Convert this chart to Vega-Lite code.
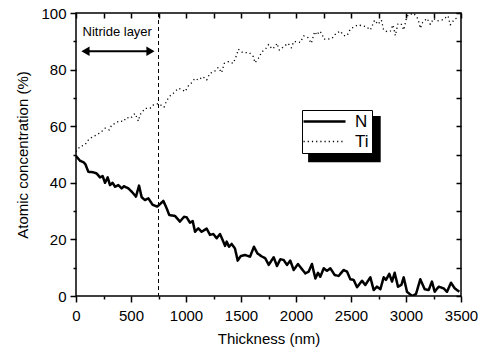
{
  "$schema": "https://vega.github.io/schema/vega-lite/v6.json",
  "width": 385,
  "height": 283,
  "autosize": {"type": "none"},
  "padding": {"left": 76, "top": 13, "right": 23, "bottom": 55},
  "background": "white",
  "config": {
    "view": {"stroke": "black", "strokeWidth": 1.5},
    "font": "Liberation Sans",
    "axis": {"grid": false, "domain": false, "ticks": true, "tickColor": "black", "tickOpacity": 1, "labelColor": "black", "titleColor": "black", "labelFont": "Liberation Sans", "titleFont": "Liberation Sans", "labelFontSize": 15, "titleFontSize": 15, "titleFontWeight": "normal", "tickWidth": 1.5}
  },
  "datasets": {
    "conc": [
      {"t":0,"v":49.5,"el":"N"},{"t":36,"v":47.8,"el":"N"},{"t":67,"v":47.3,"el":"N"},{"t":85,"v":46.6,"el":"N"},{"t":112,"v":43.9,"el":"N"},{"t":158,"v":43.7,"el":"N"},{"t":188,"v":43.3,"el":"N"},{"t":218,"v":41.9,"el":"N"},{"t":242,"v":42.4,"el":"N"},{"t":264,"v":40.0,"el":"N"},{"t":288,"v":41.9,"el":"N"},{"t":309,"v":39.2,"el":"N"},{"t":333,"v":40.0,"el":"N"},{"t":355,"v":38.6,"el":"N"},{"t":385,"v":39.2,"el":"N"},{"t":415,"v":38.0,"el":"N"},{"t":436,"v":38.8,"el":"N"},{"t":476,"v":38.0,"el":"N"},{"t":506,"v":36.9,"el":"N"},{"t":545,"v":35.1,"el":"N"},{"t":573,"v":39.0,"el":"N"},{"t":597,"v":34.9,"el":"N"},{"t":627,"v":33.9,"el":"N"},{"t":658,"v":34.5,"el":"N"},{"t":697,"v":32.2,"el":"N"},{"t":739,"v":31.6,"el":"N"},{"t":770,"v":32.7,"el":"N"},{"t":794,"v":33.6,"el":"N"},{"t":824,"v":31.0,"el":"N"},{"t":848,"v":28.6,"el":"N"},{"t":900,"v":28.3,"el":"N"},{"t":945,"v":26.3,"el":"N"},{"t":982,"v":28.0,"el":"N"},{"t":1006,"v":27.8,"el":"N"},{"t":1036,"v":25.9,"el":"N"},{"t":1061,"v":26.5,"el":"N"},{"t":1082,"v":22.7,"el":"N"},{"t":1112,"v":23.9,"el":"N"},{"t":1142,"v":22.7,"el":"N"},{"t":1188,"v":23.8,"el":"N"},{"t":1218,"v":21.6,"el":"N"},{"t":1248,"v":21.9,"el":"N"},{"t":1279,"v":20.4,"el":"N"},{"t":1309,"v":21.9,"el":"N"},{"t":1333,"v":19.8,"el":"N"},{"t":1355,"v":17.7,"el":"N"},{"t":1370,"v":19.2,"el":"N"},{"t":1391,"v":17.4,"el":"N"},{"t":1415,"v":18.4,"el":"N"},{"t":1445,"v":16.8,"el":"N"},{"t":1470,"v":12.5,"el":"N"},{"t":1497,"v":14.1,"el":"N"},{"t":1536,"v":14.5,"el":"N"},{"t":1582,"v":13.9,"el":"N"},{"t":1618,"v":17.4,"el":"N"},{"t":1648,"v":15.1,"el":"N"},{"t":1688,"v":14.0,"el":"N"},{"t":1721,"v":13.3,"el":"N"},{"t":1752,"v":11.0,"el":"N"},{"t":1797,"v":13.7,"el":"N"},{"t":1827,"v":10.6,"el":"N"},{"t":1858,"v":13.0,"el":"N"},{"t":1888,"v":12.7,"el":"N"},{"t":1918,"v":11.0,"el":"N"},{"t":1948,"v":12.5,"el":"N"},{"t":1979,"v":9.2,"el":"N"},{"t":2018,"v":11.3,"el":"N"},{"t":2048,"v":9.8,"el":"N"},{"t":2085,"v":8.0,"el":"N"},{"t":2115,"v":8.6,"el":"N"},{"t":2145,"v":11.3,"el":"N"},{"t":2176,"v":6.2,"el":"N"},{"t":2200,"v":8.2,"el":"N"},{"t":2221,"v":6.8,"el":"N"},{"t":2252,"v":9.8,"el":"N"},{"t":2282,"v":8.9,"el":"N"},{"t":2312,"v":9.8,"el":"N"},{"t":2352,"v":7.4,"el":"N"},{"t":2388,"v":7.1,"el":"N"},{"t":2433,"v":9.2,"el":"N"},{"t":2464,"v":8.6,"el":"N"},{"t":2494,"v":5.9,"el":"N"},{"t":2524,"v":5.7,"el":"N"},{"t":2555,"v":3.1,"el":"N"},{"t":2600,"v":5.4,"el":"N"},{"t":2630,"v":3.9,"el":"N"},{"t":2676,"v":6.6,"el":"N"},{"t":2706,"v":2.1,"el":"N"},{"t":2736,"v":3.3,"el":"N"},{"t":2767,"v":2.4,"el":"N"},{"t":2797,"v":6.6,"el":"N"},{"t":2818,"v":5.7,"el":"N"},{"t":2848,"v":7.8,"el":"N"},{"t":2873,"v":5.1,"el":"N"},{"t":2897,"v":8.2,"el":"N"},{"t":2927,"v":3.3,"el":"N"},{"t":2958,"v":3.9,"el":"N"},{"t":2979,"v":6.6,"el":"N"},{"t":3009,"v":1.5,"el":"N"},{"t":3055,"v":0.0,"el":"N"},{"t":3091,"v":0.7,"el":"N"},{"t":3130,"v":5.9,"el":"N"},{"t":3170,"v":2.4,"el":"N"},{"t":3206,"v":2.1,"el":"N"},{"t":3236,"v":5.1,"el":"N"},{"t":3261,"v":1.5,"el":"N"},{"t":3297,"v":3.3,"el":"N"},{"t":3342,"v":2.7,"el":"N"},{"t":3373,"v":1.5,"el":"N"},{"t":3409,"v":4.7,"el":"N"},{"t":3443,"v":2.7,"el":"N"},{"t":3485,"v":1.5,"el":"N"},
      {"t":0,"v":51.0,"el":"Ti"},{"t":36,"v":52.8,"el":"Ti"},{"t":82,"v":53.4,"el":"Ti"},{"t":112,"v":55.1,"el":"Ti"},{"t":152,"v":56.3,"el":"Ti"},{"t":188,"v":56.9,"el":"Ti"},{"t":233,"v":58.1,"el":"Ti"},{"t":264,"v":59.3,"el":"Ti"},{"t":303,"v":58.7,"el":"Ti"},{"t":324,"v":60.4,"el":"Ti"},{"t":355,"v":61.0,"el":"Ti"},{"t":394,"v":61.9,"el":"Ti"},{"t":430,"v":61.6,"el":"Ti"},{"t":461,"v":63.1,"el":"Ti"},{"t":497,"v":62.8,"el":"Ti"},{"t":536,"v":64.5,"el":"Ti"},{"t":567,"v":61.8,"el":"Ti"},{"t":582,"v":64.0,"el":"Ti"},{"t":627,"v":66.3,"el":"Ti"},{"t":673,"v":66.3,"el":"Ti"},{"t":703,"v":67.5,"el":"Ti"},{"t":750,"v":68.0,"el":"Ti"},{"t":800,"v":66.7,"el":"Ti"},{"t":824,"v":69.0,"el":"Ti"},{"t":855,"v":70.7,"el":"Ti"},{"t":885,"v":71.6,"el":"Ti"},{"t":930,"v":73.4,"el":"Ti"},{"t":961,"v":73.0,"el":"Ti"},{"t":991,"v":72.2,"el":"Ti"},{"t":1021,"v":74.2,"el":"Ti"},{"t":1052,"v":75.4,"el":"Ti"},{"t":1082,"v":76.9,"el":"Ti"},{"t":1112,"v":76.3,"el":"Ti"},{"t":1152,"v":77.5,"el":"Ti"},{"t":1188,"v":76.3,"el":"Ti"},{"t":1218,"v":78.7,"el":"Ti"},{"t":1258,"v":79.3,"el":"Ti"},{"t":1294,"v":80.8,"el":"Ti"},{"t":1324,"v":78.9,"el":"Ti"},{"t":1348,"v":82.2,"el":"Ti"},{"t":1385,"v":82.8,"el":"Ti"},{"t":1430,"v":82.2,"el":"Ti"},{"t":1461,"v":85.2,"el":"Ti"},{"t":1476,"v":87.2,"el":"Ti"},{"t":1515,"v":86.0,"el":"Ti"},{"t":1576,"v":86.0,"el":"Ti"},{"t":1612,"v":84.6,"el":"Ti"},{"t":1627,"v":82.4,"el":"Ti"},{"t":1658,"v":84.0,"el":"Ti"},{"t":1691,"v":86.3,"el":"Ti"},{"t":1727,"v":87.5,"el":"Ti"},{"t":1752,"v":88.9,"el":"Ti"},{"t":1782,"v":87.3,"el":"Ti"},{"t":1812,"v":88.1,"el":"Ti"},{"t":1827,"v":89.3,"el":"Ti"},{"t":1848,"v":86.9,"el":"Ti"},{"t":1888,"v":88.1,"el":"Ti"},{"t":1927,"v":89.3,"el":"Ti"},{"t":1958,"v":87.7,"el":"Ti"},{"t":1979,"v":89.9,"el":"Ti"},{"t":2009,"v":89.9,"el":"Ti"},{"t":2039,"v":89.6,"el":"Ti"},{"t":2070,"v":91.9,"el":"Ti"},{"t":2109,"v":91.3,"el":"Ti"},{"t":2139,"v":89.3,"el":"Ti"},{"t":2170,"v":93.4,"el":"Ti"},{"t":2191,"v":92.2,"el":"Ti"},{"t":2212,"v":93.6,"el":"Ti"},{"t":2236,"v":92.8,"el":"Ti"},{"t":2252,"v":90.8,"el":"Ti"},{"t":2291,"v":90.8,"el":"Ti"},{"t":2327,"v":91.0,"el":"Ti"},{"t":2364,"v":92.8,"el":"Ti"},{"t":2403,"v":93.6,"el":"Ti"},{"t":2433,"v":92.0,"el":"Ti"},{"t":2464,"v":92.0,"el":"Ti"},{"t":2494,"v":94.3,"el":"Ti"},{"t":2533,"v":95.2,"el":"Ti"},{"t":2564,"v":95.8,"el":"Ti"},{"t":2600,"v":95.5,"el":"Ti"},{"t":2636,"v":95.2,"el":"Ti"},{"t":2676,"v":94.0,"el":"Ti"},{"t":2715,"v":97.5,"el":"Ti"},{"t":2745,"v":96.0,"el":"Ti"},{"t":2776,"v":97.5,"el":"Ti"},{"t":2797,"v":94.0,"el":"Ti"},{"t":2827,"v":93.4,"el":"Ti"},{"t":2858,"v":93.6,"el":"Ti"},{"t":2882,"v":95.8,"el":"Ti"},{"t":2903,"v":92.0,"el":"Ti"},{"t":2927,"v":96.3,"el":"Ti"},{"t":2958,"v":96.0,"el":"Ti"},{"t":2979,"v":94.0,"el":"Ti"},{"t":3000,"v":97.5,"el":"Ti"},{"t":3018,"v":99.3,"el":"Ti"},{"t":3070,"v":99.9,"el":"Ti"},{"t":3109,"v":97.9,"el":"Ti"},{"t":3130,"v":94.6,"el":"Ti"},{"t":3152,"v":96.7,"el":"Ti"},{"t":3191,"v":98.1,"el":"Ti"},{"t":3221,"v":96.0,"el":"Ti"},{"t":3252,"v":98.1,"el":"Ti"},{"t":3282,"v":97.2,"el":"Ti"},{"t":3327,"v":97.5,"el":"Ti"},{"t":3382,"v":99.0,"el":"Ti"},{"t":3403,"v":95.8,"el":"Ti"},{"t":3443,"v":97.9,"el":"Ti"},{"t":3479,"v":98.4,"el":"Ti"}
    ]
  },
  "resolve": {"axis": {"x": "independent", "y": "independent"}},
  "layer": [
    {
      "data": {"name": "conc"},
      "mark": {"type": "line", "color": "black", "strokeJoin": "round", "clip": true},
      "encoding": {
        "x": {"field": "t", "type": "quantitative", "scale": {"domain": [0, 3500], "nice": false},
          "axis": {"orient": "bottom", "title": "Thickness (nm)", "values": [0,250,500,750,1000,1250,1500,1750,2000,2250,2500,2750,3000,3250,3500],
            "labelExpr": "datum.value % 500 === 0 ? datum.label : ''", "format": "d",
            "tickSize": {"condition": {"test": "datum.value % 500 === 0", "value": 6}, "value": 3},
            "labelPadding": 6, "titlePadding": 8, "labelFlush": false, "zindex": 2}},
        "y": {"field": "v", "type": "quantitative", "scale": {"domain": [0, 100], "nice": false},
          "axis": {"orient": "left", "title": "Atomic concentration (%)", "values": [0,10,20,30,40,50,60,70,80,90,100],
            "labelExpr": "datum.value % 20 === 0 ? datum.label : ''",
            "tickSize": {"condition": {"test": "datum.value % 20 === 0", "value": 6}, "value": 3},
            "labelPadding": 4, "titlePadding": 10, "zindex": 2}},
        "strokeDash": {"field": "el", "type": "nominal", "scale": {"domain": ["N", "Ti"], "range": [[1, 0], [1.2, 3]]},
          "legend": {"orient": "none", "legendX": 226, "legendY": 97, "title": null, "strokeColor": "black", "fillColor": "white",
            "padding": 3, "labelFontSize": 17, "labelFont": "Liberation Sans", "labelColor": "black",
            "symbolType": "M-4.2,0H4.2", "symbolSize": 100, "symbolOffset": 11, "symbolStrokeColor": "black", "symbolFillColor": "transparent",
            "rowPadding": 2, "labelOffset": 22}},
        "strokeWidth": {"field": "el", "type": "nominal", "scale": {"domain": ["N", "Ti"], "range": [2.5, 1.3]}}
      }
    },
    {
      "data": {"name": "conc"},
      "mark": {"type": "line", "opacity": 0, "strokeWidth": 0},
      "encoding": {
        "x": {"field": "t", "type": "quantitative",
          "axis": {"orient": "top", "title": null, "labels": false, "offset": -5, "tickSize": 5, "tickWidth": 1.5, "tickColor": "black", "zindex": 2, "values": [0,250,500,750,1000,1250,1500,1750,2000,2250,2500,2750,3000,3250,3500]}},
        "y": {"field": "v", "type": "quantitative",
          "axis": {"orient": "right", "title": null, "labels": false, "offset": -5, "tickSize": 5, "tickWidth": 1.5, "tickColor": "black", "zindex": 2, "values": [0,10,20,30,40,50,60,70,80,90,100]}},
        "detail": {"field": "el"}
      }
    },
    {
      "data": {"values": [{}]},
      "mark": {"type": "rect", "color": "black"},
      "encoding": {
        "x": {"datum": 2110, "type": "quantitative", "axis": null},
        "x2": {"datum": 2770},
        "y": {"datum": 63.6, "type": "quantitative", "axis": null},
        "y2": {"datum": 47.3}
      }
    },
    {
      "data": {"values": [{}]},
      "mark": {"type": "rule", "color": "black", "strokeDash": [4, 3], "strokeWidth": 1},
      "encoding": {"x": {"datum": 750, "type": "quantitative", "axis": null}}
    },
    {
      "data": {"values": [{}]},
      "mark": {"type": "rule", "color": "black", "strokeWidth": 2},
      "encoding": {
        "x": {"datum": 86, "type": "quantitative", "axis": null},
        "x2": {"datum": 677},
        "y": {"datum": 86.5, "type": "quantitative", "axis": null}
      }
    },
    {
      "data": {"values": [{}]},
      "mark": {"type": "point", "shape": "triangle-left", "filled": true, "color": "black", "size": 90, "opacity": 1},
      "encoding": {"x": {"datum": 86, "type": "quantitative", "axis": null}, "y": {"datum": 86.5, "type": "quantitative", "axis": null}}
    },
    {
      "data": {"values": [{}]},
      "mark": {"type": "point", "shape": "triangle-right", "filled": true, "color": "black", "size": 90, "opacity": 1},
      "encoding": {"x": {"datum": 677, "type": "quantitative", "axis": null}, "y": {"datum": 86.5, "type": "quantitative", "axis": null}}
    },
    {
      "data": {"values": [{}]},
      "mark": {"type": "text", "text": "Nitride layer", "fontSize": 13, "font": "Liberation Sans", "color": "black"},
      "encoding": {"x": {"datum": 375, "type": "quantitative", "axis": null}, "y": {"datum": 93.3, "type": "quantitative", "axis": null}}
    }
  ]
}
